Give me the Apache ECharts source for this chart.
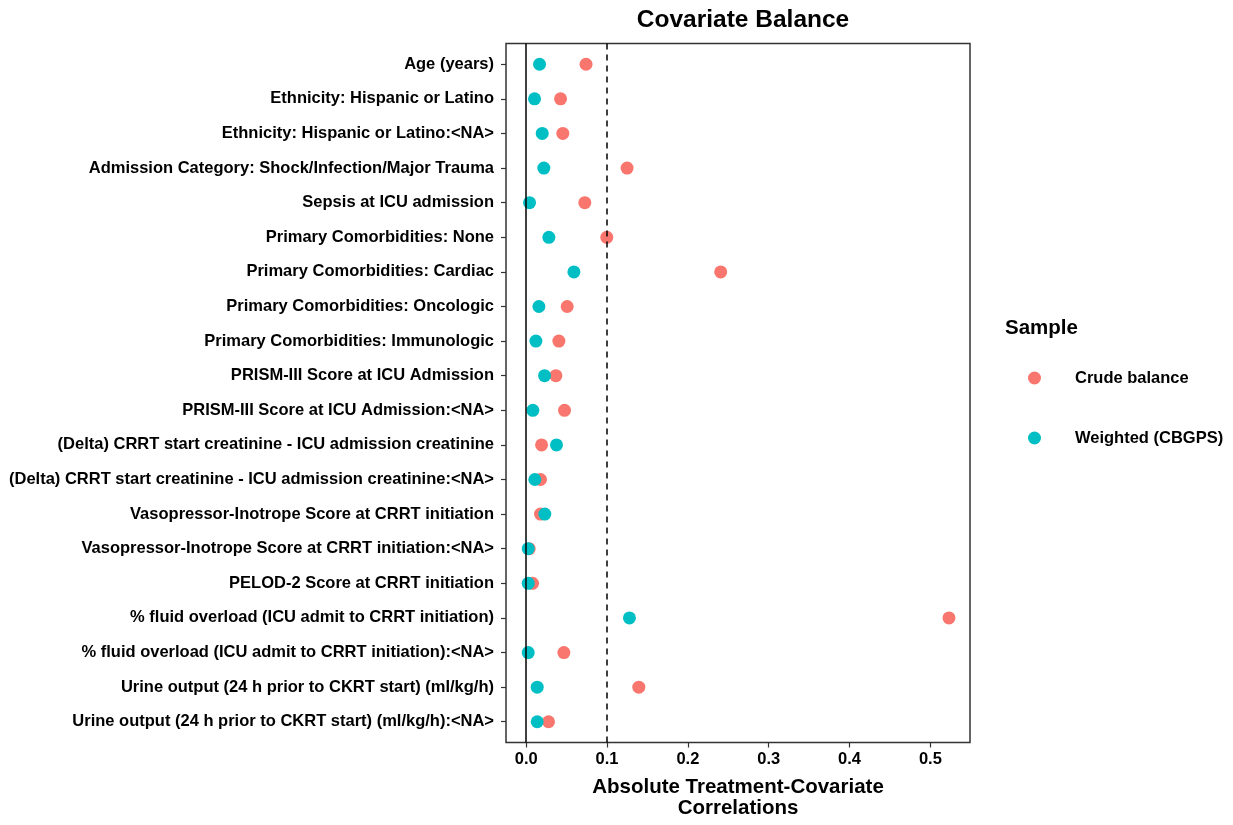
<!DOCTYPE html>
<html>
<head>
<meta charset="utf-8">
<script src="https://cdn.jsdelivr.net/npm/echarts@6/dist/echarts.min.js"></script>
<style>html,body{margin:0;padding:0;background:#fff}#c{width:1233px;height:825px}</style>
</head>
<body>
<div id="c"></div>
<script>
const categories = [
  "Age (years)",
  "Ethnicity: Hispanic or Latino",
  "Ethnicity: Hispanic or Latino:<NA>",
  "Admission Category: Shock/Infection/Major Trauma",
  "Sepsis at ICU admission",
  "Primary Comorbidities: None",
  "Primary Comorbidities: Cardiac",
  "Primary Comorbidities: Oncologic",
  "Primary Comorbidities: Immunologic",
  "PRISM-III Score at ICU Admission",
  "PRISM-III Score at ICU Admission:<NA>",
  "(Delta) CRRT start creatinine - ICU admission creatinine",
  "(Delta) CRRT start creatinine - ICU admission creatinine:<NA>",
  "Vasopressor-Inotrope Score at CRRT initiation",
  "Vasopressor-Inotrope Score at CRRT initiation:<NA>",
  "PELOD-2 Score at CRRT initiation",
  "% fluid overload (ICU admit to CRRT initiation)",
  "% fluid overload (ICU admit to CRRT initiation):<NA>",
  "Urine output (24 h prior to CKRT start) (ml/kg/h)",
  "Urine output (24 h prior to CKRT start) (ml/kg/h):<NA>"
];
const crude = [0.074, 0.0425, 0.0453, 0.1248, 0.0725, 0.0997, 0.2406, 0.0507, 0.0404, 0.0367,
               0.0474, 0.019, 0.0177, 0.0177, 0.0037, 0.0078, 0.523, 0.0466, 0.1393, 0.0276];
const weighted = [0.0165, 0.0103, 0.0198, 0.0218, 0.0041, 0.028, 0.059, 0.0157, 0.012, 0.0227,
                  0.0082, 0.0375, 0.0107, 0.023, 0.0025, 0.0025, 0.1277, 0.0025, 0.0136, 0.0136];
const xTicks = [0, 0.1, 0.2, 0.3, 0.4, 0.5];
const threshold = 0.1;

const chart = echarts.init(document.getElementById('c'), null, {renderer: 'canvas'});
const font = 'Liberation Sans, Arial, sans-serif';
const idx = categories.map((_, i) => i);
chart.setOption({
  animation: false,
  backgroundColor: '#fff',
  title: {
    text: 'Covariate Balance',
    left: 738, top: 3, textAlign: 'center',
    textStyle: {fontFamily: font, fontWeight: 'bold', fontSize: 24.5, color: '#000'}
  },
  grid: {left: 506, right: 263, top: 43.5, bottom: 82.5, show: true, borderColor: '#333', borderWidth: 1.5, backgroundColor: '#fff'},
  xAxis: {
    type: 'value', min: -0.025, max: 0.549,
    axisLine: {show: false, onZero: false},
    axisTick: {show: true, customValues: xTicks, length: 5, lineStyle: {color: '#333', width: 1.2}},
    axisLabel: {customValues: xTicks, formatter: v => v.toFixed(1), fontFamily: font, fontWeight: 'bold', fontSize: 16.5, color: '#000', margin: 8},
    splitLine: {show: false},
    name: 'Absolute Treatment-Covariate\nCorrelations',
    nameLocation: 'middle', nameGap: 34,
    nameTextStyle: {fontFamily: font, fontWeight: 'bold', fontSize: 20.5, color: '#000', lineHeight: 21, verticalAlign: 'top'}
  },
  yAxis: {
    type: 'value', inverse: true, min: -0.6, max: 19.6,
    axisLine: {show: false, onZero: false},
    axisTick: {show: true, customValues: idx, length: 5, lineStyle: {color: '#333', width: 1.2}},
    axisLabel: {customValues: idx, formatter: v => categories[Math.round(v)], fontFamily: font, fontWeight: 'bold', fontSize: 16.5, color: '#000', margin: 12},
    splitLine: {show: false}
  },
  legend: {
    orient: 'vertical', left: 1023, top: 363, itemGap: 40,
    icon: 'circle', itemWidth: 13, itemHeight: 13,
    textStyle: {fontFamily: font, fontWeight: 'bold', fontSize: 16.5, lineHeight: 20, color: '#000', padding: [0, 0, 0, 29]},
    data: ['Crude balance', 'Weighted (CBGPS)']
  },
  graphic: [{
    type: 'text', left: 1005, top: 318,
    style: {text: 'Sample', font: 'bold 20.5px Liberation Sans, Arial, sans-serif', fill: '#000'}
  }],
  series: [
    {
      name: 'Crude balance', type: 'scatter', symbolSize: 13,
      itemStyle: {color: '#F8766D', opacity: 1},
      data: crude.map((v, i) => [v, i]),
      z: 3,
      markLine: {
        silent: true, symbol: 'none', label: {show: false},
        data: [
          {xAxis: 0, lineStyle: {color: '#000', width: 1.5, type: 'solid'}},
          {xAxis: threshold, lineStyle: {color: '#000', width: 1.5, type: [6, 5]}}
        ]
      }
    },
    {
      name: 'Weighted (CBGPS)', type: 'scatter', symbolSize: 13,
      itemStyle: {color: '#00BFC4', opacity: 1},
      data: weighted.map((v, i) => [v, i]),
      z: 4
    }
  ]
});
</script>
</body>
</html>
